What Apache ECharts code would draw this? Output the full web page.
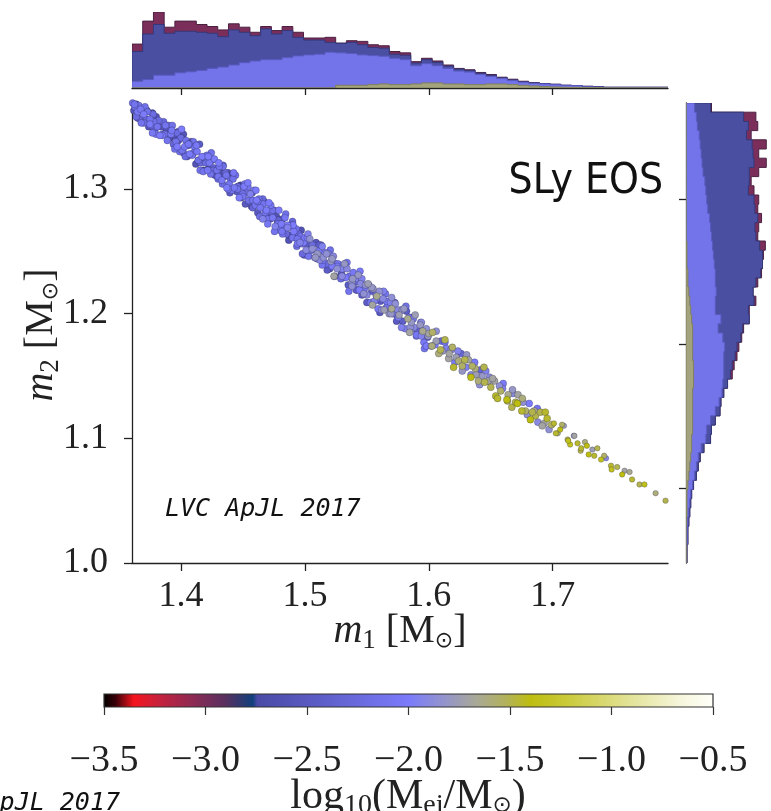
<!DOCTYPE html>
<html><head><meta charset="utf-8">
<script src="https://cdn.jsdelivr.net/npm/echarts@6/dist/echarts.min.js"></script>
<style>html,body{margin:0;padding:0;background:#fff}#c{width:771px;height:811px}</style>
</head><body><div id="c"></div>
<script>
// ---------------- data ----------------
const m1Ticks = [1.4, 1.5, 1.6, 1.7];
const m2Ticks = [1.0, 1.1, 1.2, 1.3];
const m2HistTicks = [1.1, 1.2, 1.3];
const m1Range = [1.3605, 1.793];
const m2Range = [1.0, 1.369];
const m1HistRange = [1.3605, 1.793];
const m2HistRange = [1.048, 1.367];
const cbarRange = [-3.5, -0.5];

// top marginal histogram of m1 (stacked envelopes, 50 bins, low -> high m1)
const m1HistAll   = [130,198,225,180,198,198,188,182,172,190,180,165,182,170,182,165,148,148,150,133,140,138,128,125,108,104,78,88,80,68,58,54,46,40,32,26,20,16,13,11,8,7,5,4,2,2,2,2,2,2];
const m1HistDark  = [108,160,188,162,168,168,165,162,152,172,165,155,175,160,170,150,142,142,135,132,135,128,120,118,100,97,74,84,76,65,56,52,44,38,30,24,18,15,13,11,8,7,5,4,2,2,2,2,2,2];
const m1HistLight = [20,25,38,38,45,48,52,58,62,68,75,80,84,84,90,95,98,100,106,104,102,98,96,94,88,84,66,72,66,58,50,47,40,34,28,22,17,14,12,10,8,7,4,3,2,2,2,2,2,2];
const m1HistOlive = [0,0,0,0,0,0,0,0,0,0,0,0,0,0,0,0,0,0,0,8,8,8,10,12,10,10,12,15,15,12,12,10,10,12,12,10,8,6,4,3,2,2,1,1,0,0,0,0,0,0];

// right marginal histogram of m2 (stacked envelopes, 50 bins, low -> high m2)
const m2HistAll   = [1,1,2,2,3,4,5,6,8,11,13,15,19,26,27,31,36,37,40,44,49,51,54,56,59,61,67,67,74,71,76,80,81,82,84,76,77,80,76,77,72,69,77,85,77,85,69,76,74,27];
const m2HistDark  = [1,1,2,2,3,4,5,6,8,11,13,15,19,26,27,31,36,37,40,44,47,49,52,54,58,60,67,66,72,71,74,79,81,81,78,74,73,76,73,72,66,67,67,72,71,70,64,66,61,26];
const m2HistLight = [0.5,0.5,1.5,1.5,2,3,4,5,7,9,11,13,16,21,22,26,31,35,38,39,40,40,40,41,39,34,37,31,31,32,31,31,30,29,28,27,26,25,23,22,21,20,18,17,16,15,14,12,11,9];
const m2HistOlive = [0,0,0,0,0.5,1,1,1,2,3,4,5,6,6,7,7,7,7,7,8,8,8,7,7,7,7,6,5,4,3,2,2,1,1,1,0,0,0,0,0,0,0,0,0,0,0,0,0,0,0];

// posterior samples: [m1, m2, log10(Mej/Msun)]
const samplesA = [
[1.361,1.369,-2.15],[1.362,1.363,-2.55],[1.363,1.366,-2.10],[1.364,1.358,-2.20],[1.364,1.368,-2.65],[1.365,1.362,-2.05],[1.366,1.367,-2.15],[1.367,1.356,-2.30],[1.367,1.363,-2.60],[1.368,1.353,-2.10],
[1.369,1.364,-2.20],[1.370,1.360,-2.00],[1.371,1.355,-2.50],[1.371,1.366,-2.15],[1.372,1.356,-2.25],[1.373,1.362,-2.15],[1.374,1.350,-2.55],[1.375,1.356,-2.10],[1.376,1.351,-2.20],[1.377,1.361,-2.65],[1.377,1.345,-2.05],[1.378,1.354,-2.15],
[1.379,1.348,-2.30],[1.380,1.358,-2.60],[1.381,1.350,-2.10],[1.382,1.355,-2.20],[1.383,1.343,-2.00],[1.384,1.350,-2.50],[1.385,1.344,-2.15],[1.386,1.354,-2.25],[1.387,1.344,-2.15],[1.388,1.348,-2.55],
[1.389,1.339,-2.10],[1.390,1.351,-2.20],[1.391,1.341,-2.65],[1.392,1.344,-2.05],[1.393,1.351,-2.15],[1.394,1.336,-2.30],[1.395,1.343,-2.60],[1.396,1.338,-2.10],[1.397,1.345,-2.20],[1.397,1.334,-2.00],[1.398,1.339,-2.50],[1.399,1.330,-2.15],[1.399,1.341,-2.25],
[1.400,1.341,-2.20],[1.401,1.331,-2.10],[1.402,1.344,-2.60],[1.403,1.334,-2.05],[1.404,1.339,-2.15],[1.405,1.326,-2.45],[1.406,1.335,-2.25],[1.407,1.328,-2.00],[1.408,1.338,-2.70],[1.409,1.327,-2.10],
[1.410,1.329,-2.20],[1.411,1.334,-2.10],[1.412,1.320,-2.60],[1.413,1.330,-2.05],[1.414,1.323,-2.15],[1.415,1.336,-2.45],[1.416,1.321,-2.25],[1.417,1.326,-2.00],[1.418,1.315,-2.70],[1.419,1.326,-2.10],
[1.420,1.321,-2.20],[1.421,1.327,-2.10],[1.422,1.316,-2.60],[1.423,1.321,-2.05],[1.424,1.312,-2.15],[1.425,1.323,-2.45],[1.426,1.315,-2.25],[1.427,1.324,-2.00],[1.428,1.312,-2.70],[1.429,1.315,-2.10],
[1.430,1.308,-2.20],[1.431,1.318,-2.10],[1.432,1.313,-2.60],[1.433,1.307,-2.05],[1.434,1.318,-2.15],[1.435,1.310,-2.45],[1.436,1.313,-2.25],[1.437,1.301,-2.00],[1.438,1.313,-2.70],[1.439,1.304,-2.10],
[1.440,1.308,-2.20],[1.441,1.299,-2.10],[1.442,1.310,-2.60],[1.443,1.301,-2.05],[1.444,1.311,-2.15],[1.445,1.298,-2.45],[1.446,1.302,-2.25],[1.447,1.293,-2.00],[1.448,1.303,-2.70],[1.449,1.297,-2.10],
[1.450,1.296,-2.10],[1.451,1.302,-2.00],[1.452,1.288,-2.50],[1.453,1.297,-2.15],[1.454,1.302,-2.05],[1.455,1.290,-2.25],[1.456,1.296,-1.95],[1.457,1.286,-2.60],[1.458,1.291,-2.10],[1.459,1.299,-2.00],
[1.460,1.287,-2.10],[1.461,1.291,-2.00],[1.462,1.281,-2.50],[1.463,1.292,-2.15],[1.464,1.285,-2.05],[1.465,1.290,-2.25],[1.466,1.276,-1.95],[1.467,1.290,-2.60],[1.468,1.281,-2.10],[1.469,1.283,-2.00],
[1.470,1.276,-2.10],[1.471,1.289,-2.00],[1.472,1.276,-2.50],[1.473,1.282,-2.15],[1.474,1.277,-2.05],[1.475,1.283,-2.25],[1.476,1.270,-1.95],[1.477,1.278,-2.60],[1.478,1.272,-2.10],[1.479,1.283,-2.00],
[1.480,1.267,-2.10],[1.481,1.272,-2.00],[1.482,1.276,-2.50],[1.483,1.269,-2.15],[1.484,1.277,-2.05],[1.485,1.264,-2.25],[1.486,1.269,-1.95],[1.487,1.259,-2.60],[1.488,1.270,-2.10],[1.489,1.271,-2.00],
[1.490,1.261,-2.10],[1.491,1.266,-2.00],[1.492,1.262,-2.50],[1.493,1.268,-2.15],[1.494,1.256,-2.05],[1.495,1.264,-2.25],[1.496,1.257,-1.95],[1.497,1.267,-2.60],[1.498,1.256,-2.10],[1.499,1.257,-2.00],
[1.500,1.261,-2.00],[1.501,1.251,-1.90],[1.502,1.256,-2.45],[1.503,1.246,-2.10],[1.504,1.260,-1.85],[1.505,1.251,-2.05],[1.506,1.255,-2.20],[1.508,1.245,-1.95],[1.509,1.257,-2.55],[1.510,1.248,-1.80],
[1.511,1.250,-2.00],[1.512,1.243,-1.90],[1.513,1.255,-2.45],[1.514,1.239,-2.10],[1.515,1.245,-1.85],[1.516,1.249,-2.05],[1.518,1.240,-2.20],[1.519,1.248,-1.95],[1.520,1.236,-2.55],[1.521,1.242,-1.80],
[1.522,1.238,-2.00],[1.523,1.246,-1.90],[1.524,1.230,-2.45],[1.525,1.240,-2.10],[1.526,1.236,-1.85],[1.528,1.239,-2.05],[1.529,1.228,-2.20],[1.530,1.236,-1.95],[1.531,1.229,-2.55],[1.532,1.240,-1.80],
[1.533,1.229,-2.00],[1.534,1.236,-1.90],[1.535,1.223,-2.45],[1.536,1.230,-2.10],[1.538,1.225,-1.85],[1.539,1.233,-2.05],[1.540,1.225,-2.20],[1.541,1.228,-1.95],[1.542,1.219,-2.55],[1.543,1.231,-1.80],
[1.544,1.219,-2.00],[1.545,1.224,-1.90],[1.546,1.215,-2.45],[1.548,1.220,-2.10],[1.549,1.223,-1.85],
[1.550,1.215,-1.90],[1.551,1.224,-1.75],[1.553,1.209,-2.10],[1.554,1.218,-2.40],[1.555,1.220,-1.80],[1.556,1.210,-1.95],[1.558,1.214,-1.65],[1.559,1.204,-2.05],[1.560,1.218,-1.85],[1.561,1.210,-2.50],
[1.563,1.212,-1.90],[1.564,1.203,-1.75],[1.565,1.216,-2.10],[1.566,1.205,-2.40],[1.568,1.200,-1.80],[1.569,1.209,-1.95],[1.570,1.204,-1.65],[1.571,1.200,-2.05],[1.573,1.208,-1.85],[1.574,1.194,-2.50],
[1.575,1.203,-1.90],[1.576,1.199,-1.75],[1.578,1.203,-2.10],[1.579,1.194,-2.40],[1.580,1.204,-1.80],[1.581,1.188,-1.95],[1.583,1.196,-1.65],[1.584,1.197,-2.05],[1.585,1.189,-1.85],[1.586,1.197,-2.50],
[1.588,1.189,-1.90],[1.589,1.199,-1.75],[1.590,1.182,-2.10],[1.591,1.187,-2.40],[1.593,1.191,-1.80],[1.594,1.182,-1.95],[1.595,1.186,-1.65],[1.596,1.177,-2.05],[1.598,1.188,-1.85],[1.599,1.181,-2.50],
[1.600,1.184,-1.70],[1.602,1.174,-1.90],[1.603,1.185,-1.55],[1.605,1.175,-2.00],[1.606,1.178,-1.75],[1.608,1.168,-1.60],[1.610,1.178,-2.30],[1.611,1.170,-1.80],[1.613,1.179,-1.50],[1.614,1.172,-1.95],
[1.616,1.164,-1.70],[1.618,1.171,-1.90],[1.619,1.173,-1.55],[1.621,1.161,-2.00],[1.622,1.165,-1.75],[1.624,1.162,-1.60],[1.626,1.168,-2.30],[1.627,1.154,-1.80],[1.629,1.163,-1.50],[1.630,1.157,-1.95],
[1.632,1.163,-1.70],[1.634,1.151,-1.90],[1.635,1.158,-1.55],[1.637,1.161,-2.00],[1.638,1.151,-1.75],[1.640,1.146,-1.60],[1.642,1.155,-2.30],[1.643,1.150,-1.80],[1.645,1.145,-1.50],[1.646,1.154,-1.95],
[1.648,1.146,-1.70],[1.649,1.149,-1.90],
[1.650,1.141,-1.50],[1.653,1.146,-1.70],[1.654,1.134,-1.45],[1.657,1.142,-1.85],[1.658,1.138,-1.55],[1.660,1.144,-2.00],[1.663,1.131,-1.40],[1.664,1.135,-1.65],[1.667,1.125,-1.50],[1.668,1.136,-1.90],
[1.670,1.129,-1.50],[1.672,1.135,-1.70],[1.675,1.122,-1.45],[1.676,1.129,-1.85],[1.678,1.122,-1.55],[1.681,1.128,-2.00],[1.682,1.115,-1.40],[1.685,1.122,-1.65],[1.686,1.118,-1.50],[1.688,1.113,-1.90],
[1.690,1.121,-1.50],[1.693,1.112,-1.70],[1.694,1.121,-1.45],[1.697,1.107,-1.85],[1.699,1.111,-1.55],
[1.701,1.112,-1.45],[1.704,1.104,-1.60],[1.706,1.107,-1.40],[1.709,1.110,-1.75],[1.712,1.099,-1.50],[1.714,1.095,-1.35],[1.717,1.102,-1.90],[1.720,1.096,-1.45],
[1.723,1.092,-1.45],[1.726,1.097,-1.60],[1.729,1.087,-1.40],[1.732,1.091,-1.75],[1.736,1.092,-1.50],[1.739,1.083,-1.35],[1.743,1.084,-1.90],[1.747,1.078,-1.45],
[1.752,1.077,-1.50],[1.756,1.071,-1.40],[1.762,1.073,-1.65],[1.764,1.067,-1.45],[1.774,1.063,-1.35],[1.783,1.056,-1.60],[1.791,1.050,-1.50]
];
const samplesB = [
[1.3625,1.368,-2.10],[1.3650,1.357,-2.35],[1.3675,1.364,-2.05],[1.3700,1.353,-2.15],[1.3725,1.363,-2.55],[1.3750,1.352,-2.00],[1.3775,1.360,-2.20],[1.3800,1.344,-2.10],[1.3825,1.351,-2.45],[1.3850,1.343,-2.05],
[1.3875,1.351,-2.10],[1.3900,1.344,-2.35],[1.3925,1.347,-2.05],[1.3950,1.332,-2.15],[1.3975,1.346,-2.55],
[1.4005,1.348,-2.00],[1.4035,1.326,-2.20],[1.4065,1.336,-2.10],[1.4095,1.328,-2.45],[1.4125,1.335,-2.05],[1.4155,1.315,-2.10],[1.4185,1.324,-2.35],[1.4215,1.315,-2.05],[1.4245,1.329,-2.15],[1.4275,1.311,-2.55],
[1.4305,1.321,-2.00],[1.4335,1.304,-2.20],[1.4365,1.311,-2.10],[1.4395,1.297,-2.45],[1.4425,1.313,-2.05],[1.4455,1.300,-2.10],[1.4485,1.293,-2.35],
[1.4515,1.304,-2.05],[1.4545,1.291,-2.15],[1.4575,1.297,-2.55],[1.4605,1.299,-2.00],[1.4635,1.278,-2.20],[1.4665,1.288,-2.10],[1.4695,1.280,-2.45],[1.4725,1.287,-2.05],[1.4755,1.266,-2.10],[1.4785,1.275,-2.35],
[1.4815,1.266,-2.05],[1.4845,1.280,-2.15],[1.4875,1.263,-2.55],[1.4905,1.271,-2.00],[1.4935,1.254,-2.20],[1.4965,1.262,-2.10],[1.4995,1.247,-2.45],
[1.5025,1.264,-1.95],[1.5055,1.251,-2.10],[1.5085,1.245,-1.80],[1.5115,1.255,-2.40],[1.5145,1.243,-2.00],[1.5175,1.248,-1.85],[1.5205,1.251,-2.15],[1.5235,1.230,-1.70],[1.5265,1.240,-2.05],[1.5295,1.232,-2.50],
[1.5325,1.240,-1.95],[1.5355,1.218,-2.10],[1.5385,1.228,-1.80],[1.5415,1.219,-2.40],[1.5445,1.234,-2.00],[1.5475,1.216,-1.85],
[1.5515,1.223,-2.15],[1.5545,1.207,-1.70],[1.5575,1.215,-2.05],[1.5605,1.201,-2.50],[1.5635,1.218,-1.95],[1.5665,1.206,-2.10],[1.5695,1.200,-1.80],[1.5725,1.209,-2.40],[1.5755,1.197,-2.00],[1.5785,1.203,-1.85],
[1.5815,1.206,-2.15],[1.5845,1.185,-1.70],[1.5875,1.196,-2.05],[1.5905,1.186,-2.50],[1.5935,1.193,-1.95],[1.5965,1.172,-2.10],[1.5995,1.182,-1.80],
[1.6025,1.174,-1.60],[1.6060,1.186,-1.85],[1.6095,1.171,-1.50],[1.6130,1.177,-2.10],[1.6165,1.168,-1.70],[1.6200,1.157,-1.45],[1.6235,1.170,-1.95],[1.6270,1.158,-1.55],[1.6305,1.167,-1.80],[1.6340,1.149,-1.40],
[1.6375,1.156,-1.60],[1.6410,1.143,-1.85],[1.6445,1.157,-1.50],[1.6480,1.146,-2.10],
[1.6515,1.148,-1.70],[1.6555,1.132,-1.45],[1.6595,1.140,-1.95],[1.6635,1.130,-1.55],[1.6675,1.139,-1.80],[1.6715,1.128,-1.40],[1.6755,1.132,-1.60],[1.6795,1.119,-1.85],[1.6835,1.121,-1.50],[1.6875,1.124,-2.10],
[1.6915,1.110,-1.70],[1.6955,1.116,-1.45],
[1.7025,1.104,-1.45],[1.7075,1.111,-1.55],[1.7125,1.098,-1.35],[1.7175,1.102,-1.70],[1.7225,1.090,-1.50],[1.7275,1.094,-1.40],[1.7335,1.086,-1.45],[1.7415,1.086,-1.55],[1.7475,1.075,-1.35],[1.7580,1.074,-1.70],
[1.7700,1.063,-1.50]
];
const samplesC = [
[1.402,1.329,-2.25],[1.406,1.336,-2.05],[1.410,1.338,-2.15],[1.414,1.323,-2.60],[1.418,1.314,-2.10],[1.422,1.326,-2.00],[1.426,1.317,-2.30],[1.430,1.310,-2.10],[1.434,1.319,-2.25],[1.438,1.300,-2.05],
[1.442,1.308,-2.15],[1.446,1.302,-2.60],[1.450,1.294,-2.10],[1.454,1.305,-2.00],[1.458,1.285,-2.30],[1.462,1.290,-2.10],[1.466,1.292,-2.25],[1.470,1.272,-2.05],[1.474,1.283,-2.15],[1.478,1.274,-2.60],
[1.482,1.264,-2.10],[1.486,1.271,-2.00],[1.490,1.274,-2.30],[1.494,1.260,-2.10],[1.498,1.248,-2.25],
[1.502,1.261,-2.00],[1.506,1.252,-1.85],[1.510,1.244,-2.20],[1.514,1.254,-1.95],[1.518,1.235,-2.45],[1.522,1.244,-1.80],[1.526,1.238,-2.05],[1.530,1.230,-1.90],[1.534,1.241,-2.00],[1.538,1.222,-1.85],
[1.542,1.226,-2.20],[1.546,1.228,-1.95],[1.550,1.209,-2.45],[1.554,1.221,-1.80],[1.558,1.212,-2.05],[1.562,1.203,-1.90],[1.566,1.210,-2.00],[1.570,1.213,-1.85],[1.574,1.199,-2.20],[1.578,1.189,-1.95],
[1.582,1.202,-2.45],[1.586,1.193,-1.80],[1.590,1.183,-2.05],[1.594,1.193,-1.90],[1.598,1.174,-2.00]
];

// ---------------- style ----------------
const cmapStops = [
 [0.00,'#000000'],[0.02,'#3a0008'],[0.05,'#f5141e'],[0.09,'#c8203c'],[0.15,'#8a2a55'],[0.20,'#58305f'],
 [0.245,'#10407c'],[0.252,'#4a4aa6'],[0.35,'#5c5cc6'],[0.50,'#7b7bfb'],[0.56,'#9494cc'],[0.61,'#a8a898'],
 [0.66,'#b2b25a'],[0.70,'#bdbd10'],[0.76,'#caca3a'],[0.86,'#e2e296'],[0.95,'#f7f7e0'],[1.00,'#fffffa']
];
function hex2rgb(h){return [parseInt(h.slice(1,3),16),parseInt(h.slice(3,5),16),parseInt(h.slice(5,7),16)];}
function cmap(v){
  let f=(v-cbarRange[0])/(cbarRange[1]-cbarRange[0]); f=Math.max(0,Math.min(1,f));
  for(let i=1;i<cmapStops.length;i++){
    if(f<=cmapStops[i][0]){
      const a=cmapStops[i-1], b=cmapStops[i]; const t=(f-a[0])/(b[0]-a[0]);
      const ca=hex2rgb(a[1]), cb=hex2rgb(b[1]);
      return 'rgb('+ca.map((c,k)=>Math.round(c+(cb[k]-c)*t)).join(',')+')';
    }
  }
  return cmapStops[cmapStops.length-1][1];
}
const INK = '#222';
const SERIF = 'Liberation Serif';

function histPoly(range, heights, horizontal){
  const w=(range[1]-range[0])/heights.length;
  const pts=[[range[0],0]];
  heights.forEach((h,i)=>{pts.push([range[0]+i*w,h]);pts.push([range[0]+(i+1)*w,h]);});
  pts.push([range[1],0]);
  return horizontal ? pts.map(p=>[p[1],p[0]]) : pts;
}
function histSeries(axisIdx, poly, fill, stroke){
  return {type:'custom', xAxisIndex:axisIdx, yAxisIndex:axisIdx, data:[[0,0]], silent:true, clip:true,
    renderItem:(params,api)=>({type:'polygon', shape:{points:poly.map(p=>api.coord(p))},
      style:{fill:fill, stroke:stroke, lineWidth:1}})};
}
const layerColors = {all:'#7c2e5b', dark:'#4b4fa2', light:'#7474ea', olive:'#a3a37e'};
const layerEdges  = {all:'#4a2040', dark:'#34387a', light:'#5a5ac0', olive:'#80805a'};

const tickStyle = {color:INK, width:1.3};
function mkRich(big, small, drop){
  return {
    it:{fontFamily:SERIF, fontStyle:'italic', fontSize:big, fill:INK, verticalAlign:'middle'},
    n:{fontFamily:SERIF, fontSize:big, fill:INK, verticalAlign:'middle'},
    s:{fontFamily:SERIF, fontSize:small, fill:INK, padding:[drop,0,0,0], verticalAlign:'middle'},
    so:{fontFamily:'DejaVu Sans', fontSize:small-5, fill:INK, padding:[drop,0,0,0], verticalAlign:'middle'}
  };
}
// draw low-ejecta samples first so higher values sit on top (as in the original plot)
const allSamples = samplesA.concat(samplesB, samplesC).slice().sort((a,b)=>a[2]-b[2]);
const scatterStyle = {color:p=>cmap(p.value[2]), borderColor:'rgba(20,20,50,0.5)', borderWidth:0.5, opacity:1};

const chart = echarts.init(document.getElementById('c'), null, {renderer:'canvas'});
chart.setOption({
  animation:false,
  backgroundColor:'#fff',
  grid:[
    {left:132, top:103, width:536, height:460},
    {left:132, top:12, width:536, height:76},
    {left:686, top:103, width:90, height:460},
    {left:104, top:694, width:609, height:13}
  ],
  xAxis:[
    {gridIndex:0, type:'value', min:m1Range[0], max:m1Range[1], splitLine:{show:false},
     axisLine:{onZero:false, lineStyle:tickStyle},
     axisTick:{customValues:m1Ticks, length:8, lineStyle:tickStyle},
     axisLabel:{customValues:m1Ticks, formatter:v=>v.toFixed(1), fontFamily:SERIF, fontSize:36, color:INK, margin:16}},
    {gridIndex:1, type:'value', min:m1HistRange[0], max:m1HistRange[1], splitLine:{show:false},
     axisLine:{onZero:false, lineStyle:tickStyle},
     axisTick:{customValues:m1Ticks, length:7, lineStyle:tickStyle}, axisLabel:{show:false}},
    {gridIndex:2, type:'value', min:0, max:90, show:false},
    {gridIndex:3, type:'value', min:cbarRange[0], max:cbarRange[1], interval:0.5, splitLine:{show:false},
     axisLine:{show:false}, axisTick:{length:8, lineStyle:{color:'#333', width:1.2}},
     axisLabel:{formatter:v=>(v<0?'\u2212':'')+Math.abs(v).toFixed(1), fontFamily:SERIF, fontSize:38, color:INK, margin:35}}
  ],
  yAxis:[
    {gridIndex:0, type:'value', min:m2Range[0], max:m2Range[1], splitLine:{show:false},
     axisLine:{show:true, onZero:false, lineStyle:tickStyle},
     axisTick:{show:true, customValues:m2Ticks, length:8, lineStyle:tickStyle},
     axisLabel:{customValues:m2Ticks, formatter:v=>v.toFixed(1), fontFamily:SERIF, fontSize:36, color:INK, margin:24}},
    {gridIndex:1, type:'value', min:0, max:225, show:false},
    {gridIndex:2, type:'value', min:m2HistRange[0], max:m2HistRange[1], splitLine:{show:false},
     axisLine:{show:true, onZero:false, lineStyle:tickStyle},
     axisTick:{show:true, customValues:m2HistTicks, length:7, lineStyle:tickStyle}, axisLabel:{show:false}},
    {gridIndex:3, type:'value', min:0, max:1, show:false}
  ],
  series:[
    {type:'scatter', xAxisIndex:0, yAxisIndex:0, data:allSamples, silent:true, itemStyle:scatterStyle,
     symbolSize:v=>(v[0]>1.70 ? 5.5 : 7)},
    histSeries(1, histPoly(m1HistRange, m1HistAll, false), layerColors.all, layerEdges.all),
    histSeries(1, histPoly(m1HistRange, m1HistDark, false), layerColors.dark, layerEdges.dark),
    histSeries(1, histPoly(m1HistRange, m1HistLight, false), layerColors.light, layerEdges.light),
    histSeries(1, histPoly(m1HistRange, m1HistOlive, false), layerColors.olive, layerEdges.olive),
    histSeries(2, histPoly(m2HistRange, m2HistAll, true), layerColors.all, layerEdges.all),
    histSeries(2, histPoly(m2HistRange, m2HistDark, true), layerColors.dark, layerEdges.dark),
    histSeries(2, histPoly(m2HistRange, m2HistLight, true), layerColors.light, layerEdges.light),
    histSeries(2, histPoly(m2HistRange, m2HistOlive, true), layerColors.olive, layerEdges.olive),
    {type:'custom', xAxisIndex:3, yAxisIndex:3, data:[[0,0]], silent:true,
     renderItem:(params,api)=>{
       const p0=api.coord([cbarRange[0],1]), p1=api.coord([cbarRange[1],0]);
       return {type:'rect', shape:{x:p0[0], y:p0[1], width:p1[0]-p0[0], height:p1[1]-p0[1]},
         style:{fill:new echarts.graphic.LinearGradient(0,0,1,0,cmapStops.map(s=>({offset:s[0],color:s[1]}))),
                stroke:'#333', lineWidth:1.2}};
     }}
  ],
  graphic:[
    {type:'text', x:400, y:631, style:{text:'{it|m}{s|1}{n| [M}{so|\u2299}{n|]}', rich:mkRich(40,27,20), align:'center', verticalAlign:'middle', fill:INK}},
    {type:'text', x:41, y:335, rotation:Math.PI/2, style:{text:'{it|m}{s|2}{n| [M}{so|\u2299}{n|]}', rich:mkRich(40,27,20), align:'center', verticalAlign:'middle', fill:INK}},
    {type:'text', x:408, y:797, style:{text:'{n|log}{s|10}{n|(M}{s|ej}{n|/M}{so|\u2299}{n|)}', rich:mkRich(42,28,18), align:'center', verticalAlign:'middle', fill:INK}},
    {type:'text', x:663, y:182, scaleY:1.12, style:{text:'SLy EOS', fontFamily:'DejaVu Sans', fontSize:38, align:'right', verticalAlign:'middle', fill:'#111'}},
    {type:'text', x:165, y:509, style:{text:'LVC ApJL 2017', fontFamily:'DejaVu Sans Mono', fontStyle:'italic', fontSize:25, align:'left', verticalAlign:'middle', fill:'#111'}},
    {type:'text', x:120, y:803, style:{text:'LVC ApJL 2017', fontFamily:'DejaVu Sans Mono', fontStyle:'italic', fontSize:25, align:'right', verticalAlign:'middle', fill:'#111'}}
  ]
});
</script>
</body></html>
